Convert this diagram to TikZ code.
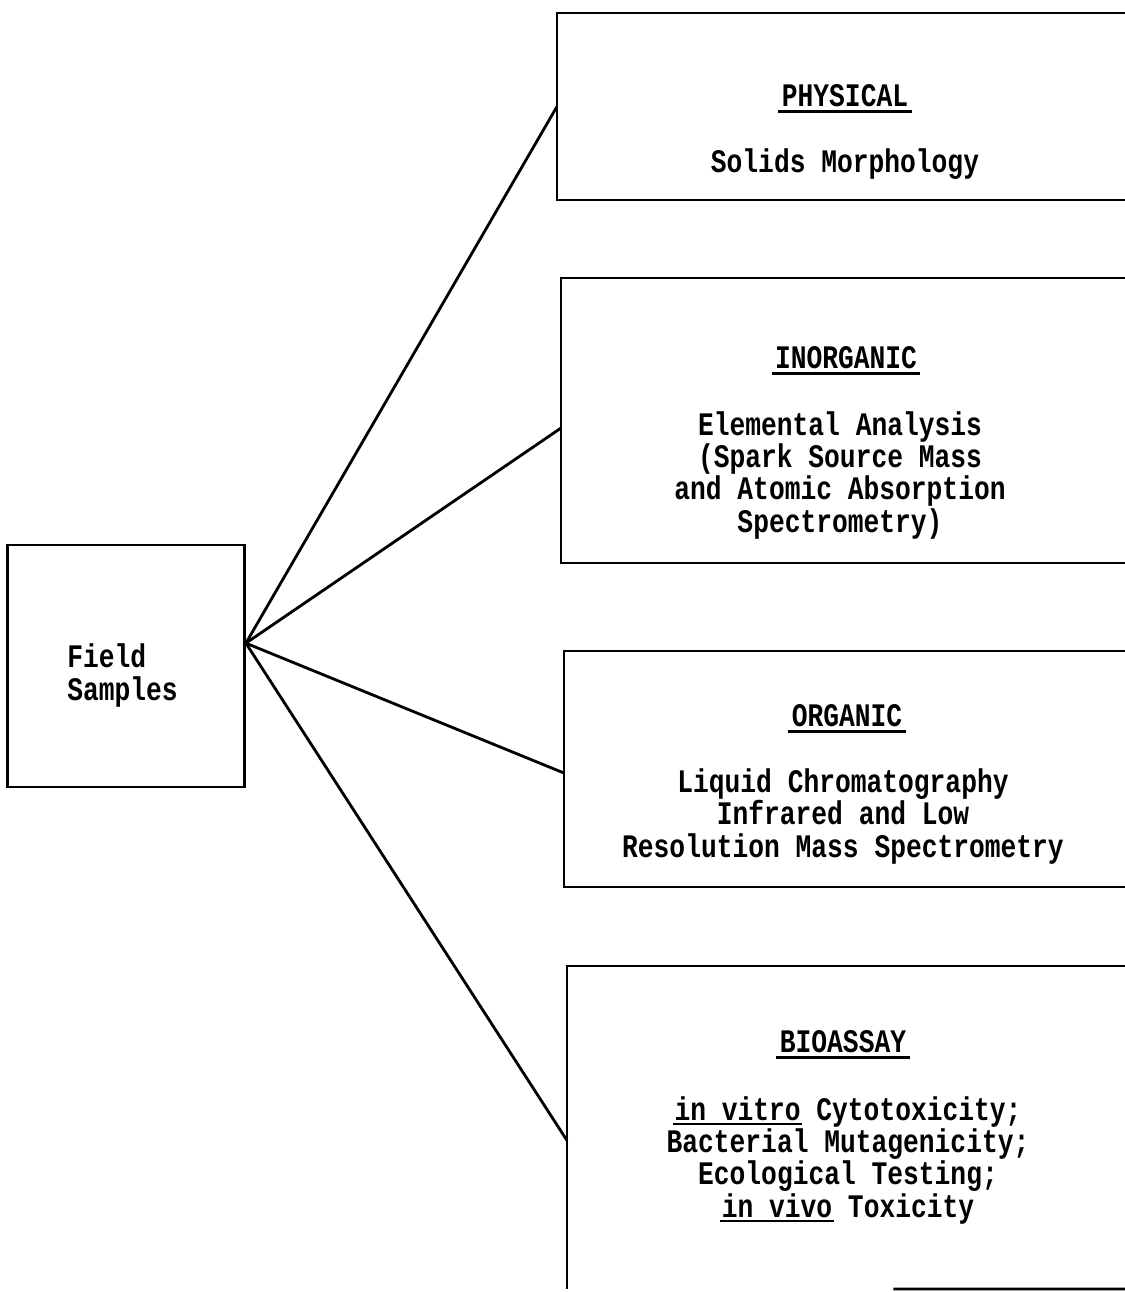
\documentclass[tikz,border=0pt]{standalone}
\usepackage{fontspec}
\newfontfamily\typer{Liberation Mono}[FakeStretch=0.8]
\usetikzlibrary{calc}

% typewriter face with a fixed line pitch
\newcommand\typeface[1]{\typer\bfseries\fontsize{18.7pt}{#1}\selectfont\lineskiplimit=-20pt\relax}
% underlined heading word, the rule a little wider than the word
\newcommand\headword[1]{\setbox0\hbox{#1}\rlap{\hspace*{-2pt}\rule[-4pt]{\dimexpr\wd0+4pt\relax}{1.6pt}}\box0\relax}
% underlined word inside a body line
\newcommand\ulword[1]{\setbox0\hbox{#1}\rlap{\hspace*{-1pt}\rule[-3pt]{\dimexpr\wd0+2pt\relax}{1.4pt}}\box0\relax}

\begin{document}
\begin{tikzpicture}[x=0.02cm, y=-0.02cm,
  font=\typeface{18.4pt},
  frame/.style={line width=1.6pt},
  panel/.style={draw=none, inner sep=0pt, outer sep=0pt, anchor=north west},
  link/.style={line width=1.6pt},
  heading/.style={anchor=base, inner sep=0pt},
  body/.style={anchor=base, align=center, inner sep=0pt}]
\useasboundingbox (0,0) rectangle (1125,1292);

% source box
\node[frame, draw, inner sep=0pt, minimum width=4.74cm, minimum height=4.84cm] (field) at (126,666) {};
% multi-line texts are placed by the baseline of their last line
\node[anchor=base west, align=left, inner sep=0pt, font=\typeface{18.7pt}] (fieldtxt) at (67,700) {Field\\Samples};
\coordinate (hub) at ([yshift=13pt]field.east);

% analysis panels (open to the right)
\node[panel, minimum width=11.36cm, minimum height=3.74cm] (phys)  at (557,13)  {};
\node[panel, minimum width=11.28cm, minimum height=5.70cm] (inorg) at (561,278) {};
\node[panel, minimum width=11.22cm, minimum height=4.72cm] (org)   at (564,651) {};
\node[panel, minimum width=11.16cm, minimum height=6.46cm] (bio)   at (567,966) {};

\draw[frame] (phys.north east) -- (phys.north west) -- (phys.south west) -- (phys.south east);
\draw[frame] (inorg.north east) -- (inorg.north west) -- (inorg.south west) -- (inorg.south east);
\draw[frame] (org.north east) -- (org.north west) -- (org.south west) -- (org.south east);
\draw[frame] (bio.north east) -- (bio.north west) -- (bio.south west);
\coordinate (biobot) at ($(bio.south west)!0.585!(bio.south east)$);
\draw[frame] (biobot) -- (bio.south east);

% connectors
\draw[link] (hub) -- (phys.west);
\draw[link] (hub) -- ([yshift=-4.3pt]inorg.west);
\draw[link] (hub) -- ([yshift=-2.3pt]org.west);
\draw[link] (hub) -- ([yshift=-7.4pt]bio.west);

% panel texts
\node[heading] (physh) at (845,106) {\headword{PHYSICAL}};
\node[body] (physb) at (845,172) {Solids Morphology};

\node[heading] (inorgh) at (846,368) {\headword{INORGANIC}};
\node[body] (inorgb) at (840,532)
  {Elemental Analysis\\(Spark Source Mass\\and Atomic Absorption\\Spectrometry)};

\node[heading] (orgh) at (847,726) {\headword{ORGANIC}};
\node[body] (orgb) at (843,857)
  {Liquid Chromatography\\Infrared and Low\\Resolution Mass Spectrometry};

\node[heading] (bioh) at (843,1052) {\headword{BIOASSAY}};
\node[body] (biob) at (848,1217)
  {\ulword{in vitro} Cytotoxicity;\\Bacterial Mutagenicity;\\Ecological Testing;\\\ulword{in vivo} Toxicity};
\end{tikzpicture}
\end{document}
